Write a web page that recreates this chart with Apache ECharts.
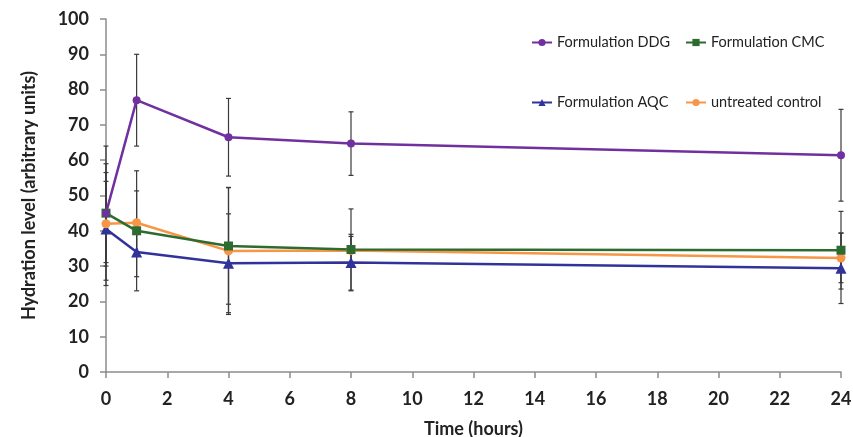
<!DOCTYPE html>
<html>
<head>
<meta charset="utf-8">
<script src="https://cdn.jsdelivr.net/npm/echarts@6/dist/echarts.min.js"></script>
<style>
  html, body { margin: 0; padding: 0; background: #fff; }
  #main { width: 853px; height: 437px; }
</style>
</head>
<body>
<div id="main"></div>
<script>
'use strict';

// time points (hours)
let times = [0, 1, 4, 8, 24];

// hydration means per formulation
let ddg = [45, 77, 66.5, 64.7, 61.4];
let cmc = [45, 40, 35.7, 34.7, 34.5];
let aqc = [40.5, 34, 30.8, 31, 29.4];
let control = [42, 42.3, 34.3, 34.4, 32.3];

// error bar half-widths
let ddgErr = [19, 13, 11, 9, 13];
let cmcErr = [14, 17, 16.5, 11.5, 11];
let aqcErr = [16, 7, 14, 8, 10];
let controlErr = [12, 9, 18, 4, 7];

let font = 'Lato, "Open Sans", sans-serif';

let myChart = echarts.init(document.getElementById('main'));

function pairs(vals) {
	let out = [];
	for (let i = 0; i < times.length; i++) {
		out.push([times[i], vals[i]]);
	}
	return out;
}

function errData(vals, errs) {
	let out = [];
	for (let i = 0; i < times.length; i++) {
		out.push([times[i], vals[i] - errs[i], vals[i] + errs[i]]);
	}
	return out;
}

function errorSeries(vals, errs) {
	return {
		type: 'custom',
		z: 1,
		silent: true,
		data: errData(vals, errs),
		renderItem: function (params, api) {
			let lo = api.coord([api.value(0), api.value(1)]);
			let hi = api.coord([api.value(0), api.value(2)]);
			let w = 2.5;
			let style = { stroke: '#3a3a3a', lineWidth: 1.2 };
			return {
				type: 'group',
				children: [
					{ type: 'line', shape: { x1: lo[0], y1: lo[1], x2: hi[0], y2: hi[1] }, style: style },
					{ type: 'line', shape: { x1: lo[0] - w, y1: lo[1], x2: lo[0] + w, y2: lo[1] }, style: style },
					{ type: 'line', shape: { x1: hi[0] - w, y1: hi[1], x2: hi[0] + w, y2: hi[1] }, style: style }
				]
			};
		}
	};
}

function lineSeries(name, vals, color, symbol, size) {
	return {
		name: name,
		type: 'line',
		z: 3,
		data: pairs(vals),
		symbol: symbol,
		symbolSize: size,
		lineStyle: { color: color, width: 2.5 },
		itemStyle: { color: color },
		emphasis: { disabled: true }
	};
}

function legendAt(name, left, top) {
	return {
		data: [name],
		left: left,
		top: top,
		itemWidth: 20,
		itemHeight: 9,
		itemGap: 4,
		textStyle: { fontFamily: font, fontSize: 14.5, color: '#222' }
	};
}

let option = {
	animation: false,
	backgroundColor: '#fff',
	legend: [
		legendAt('Formulation DDG', 526, 30),
		legendAt('Formulation CMC', 680, 30),
		legendAt('Formulation AQC', 526, 90),
		legendAt('untreated control', 680, 90)
	],
	grid: {
		left: 106,
		right: 12,
		top: 19,
		bottom: 65,
		containLabel: false,
		outerBoundsMode: 'none'
	},
	xAxis: {
		type: 'value',
		min: 0,
		max: 24,
		interval: 2,
		name: 'Time (hours)',
		nameLocation: 'middle',
		nameGap: 48,
		nameTextStyle: { fontFamily: font, fontSize: 18, fontWeight: 'bold', color: '#222' },
		axisLine: { lineStyle: { color: '#8c8c8c', width: 1.5 } },
		axisTick: { length: 6, lineStyle: { color: '#8c8c8c', width: 1.5 } },
		axisLabel: { fontFamily: font, fontSize: 18, fontWeight: 'bold', color: '#222', margin: 18 },
		splitLine: { show: false }
	},
	yAxis: {
		type: 'value',
		min: 0,
		max: 100,
		interval: 10,
		name: 'Hydration level (arbitrary units)',
		nameLocation: 'middle',
		nameGap: 68,
		nameTextStyle: { fontFamily: font, fontSize: 18, fontWeight: 'bold', color: '#222' },
		axisLine: { show: true, lineStyle: { color: '#8c8c8c', width: 1.5 } },
		axisTick: { show: true, length: 6, lineStyle: { color: '#8c8c8c', width: 1.5 } },
		axisLabel: { fontFamily: font, fontSize: 18, fontWeight: 'bold', color: '#222', margin: 17 },
		splitLine: { show: false }
	},
	series: [
		errorSeries(ddg, ddgErr),
		errorSeries(cmc, cmcErr),
		errorSeries(aqc, aqcErr),
		errorSeries(control, controlErr),
		lineSeries('Formulation AQC', aqc, '#323399', 'triangle', 11),
		lineSeries('untreated control', control, '#F79646', 'circle', 9),
		lineSeries('Formulation CMC', cmc, '#2E6B30', 'rect', 9),
		lineSeries('Formulation DDG', ddg, '#7030A0', 'circle', 8)
	]
};

myChart.setOption(option);
</script>
</body>
</html>
